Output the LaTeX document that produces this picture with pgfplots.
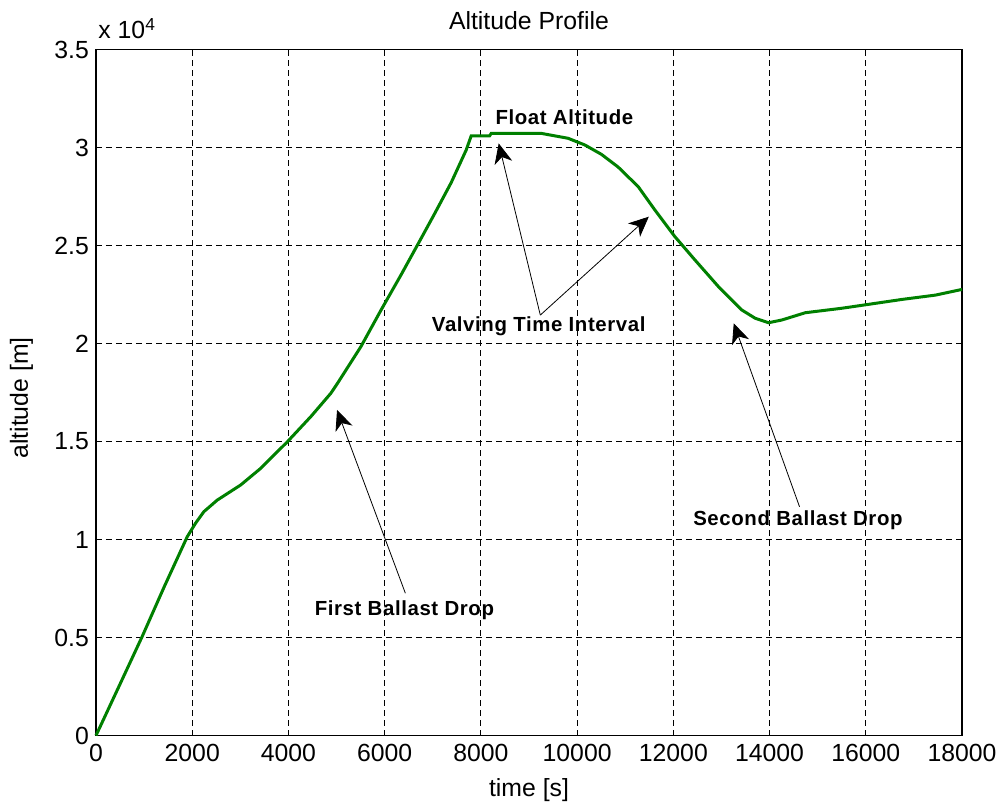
\documentclass[border=0pt]{standalone}
\usepackage{fontspec}
\setmainfont{Liberation Sans}
\usepackage{pgfplots}
\pgfplotsset{compat=1.18}
\usetikzlibrary{arrows.meta}
\definecolor{mgreen}{RGB}{0,128,0}
\newcommand{\annot}{\fontsize{10.2}{12}\selectfont\bfseries\addfontfeatures{LetterSpace=3}}
\tikzset{annarrow/.style={-{Stealth[length=10pt, width=9pt, inset=3pt]}, line width=0.4pt}}

\begin{document}
\begin{tikzpicture}
  \path[use as bounding box] (-48pt,-37.25pt) rectangle (454.5pt,367.75pt);
  \begin{axis}[
    at={(0,0)}, anchor=south west,
    scale only axis, width=433pt, height=343pt,
    xmin=0, xmax=18000, ymin=0, ymax=35000,
    xtick={0,2000,...,18000},
    ytick={0,5000,...,35000},
    yticklabels={0,0.5,1,1.5,2,2.5,3,3.5},
    scaled x ticks=false, scaled y ticks=false,
    /pgf/number format/1000 sep={},
    /pgf/number format/assume math mode=true,
    tick label style={font=\fontsize{12.4}{14}\selectfont},
    label style={font=\fontsize{12.4}{14}\selectfont},
    xlabel={time [s]}, ylabel={altitude [m]},
    xlabel style={at={(axis description cs:0.5,-0.08)}, anchor=center},
    ylabel style={at={(axis description cs:-0.086,0.492)}, anchor=center, rotate=0},
    tick align=inside, major tick length=3pt,
    every tick/.style={black, line width=0.5pt},
    axis line style={line width=0.6pt},
    grid=major,
    grid style={black, line width=0.4pt, dash pattern=on 3pt off 2pt},
    xticklabel style={yshift=-1pt},
    clip=false,
  ]
  \addplot[mgreen, line width=1.5pt] coordinates {
    (0,0) (480,2520) (958,5040) (1420,7600) (1896,10140) (2069,10830)
    (2242,11420) (2520,12010) (3006,12780) (3423,13630) (3979,14990)
    (4465,16270) (4881,17460) (5020,17970) (5506,19840) (5923,21700)
    (6340,23500) (6721,25200) (7033,26600) (7381,28200) (7694,29870)
    (7798,30590) (8179,30590) (8215,30720) (9048,30720) (9256,30720)
    (9813,30470) (10160,30130) (10506,29650) (10854,29000) (11271,28000)
    (11617,26810) (12033,25450) (12450,24260) (12938,22900) (13423,21710)
    (13700,21290) (13979,21060) (14256,21200) (14742,21570) (15506,21800)
    (16063,22000) (16756,22250) (17450,22470) (18000,22760)
  };
  \draw[annarrow] (axis cs:6430,7260) -- (axis cs:5010,16610);
  \draw[annarrow] (axis cs:9235,21450) -- (axis cs:8370,30210);
  \draw[annarrow] (axis cs:9235,21450) -- (axis cs:11490,26470);
  \draw[annarrow] (axis cs:14623,11670) -- (axis cs:13256,21030);
  \node[font=\annot] at (axis cs:6410,6400) {First Ballast Drop};
  \node[font=\annot] at (axis cs:9735,31570) {Float Altitude};
  \node[font=\annot] at (axis cs:9202,20860) {Valving Time Interval};
  \node[font=\annot] at (axis cs:14590,10960) {Second Ballast Drop};
  \node[font=\fontsize{12.4}{14}\selectfont, anchor=south west, inner sep=0pt]
    at (rel axis cs:0,1) [yshift=5pt, xshift=1pt] {x 10\textsuperscript{4}};
  \node[font=\fontsize{12.4}{14}\selectfont, anchor=base, inner sep=0pt]
    at (rel axis cs:0.5,1) [yshift=9.8pt] {Altitude Profile};
  \end{axis}
\end{tikzpicture}
\end{document}
